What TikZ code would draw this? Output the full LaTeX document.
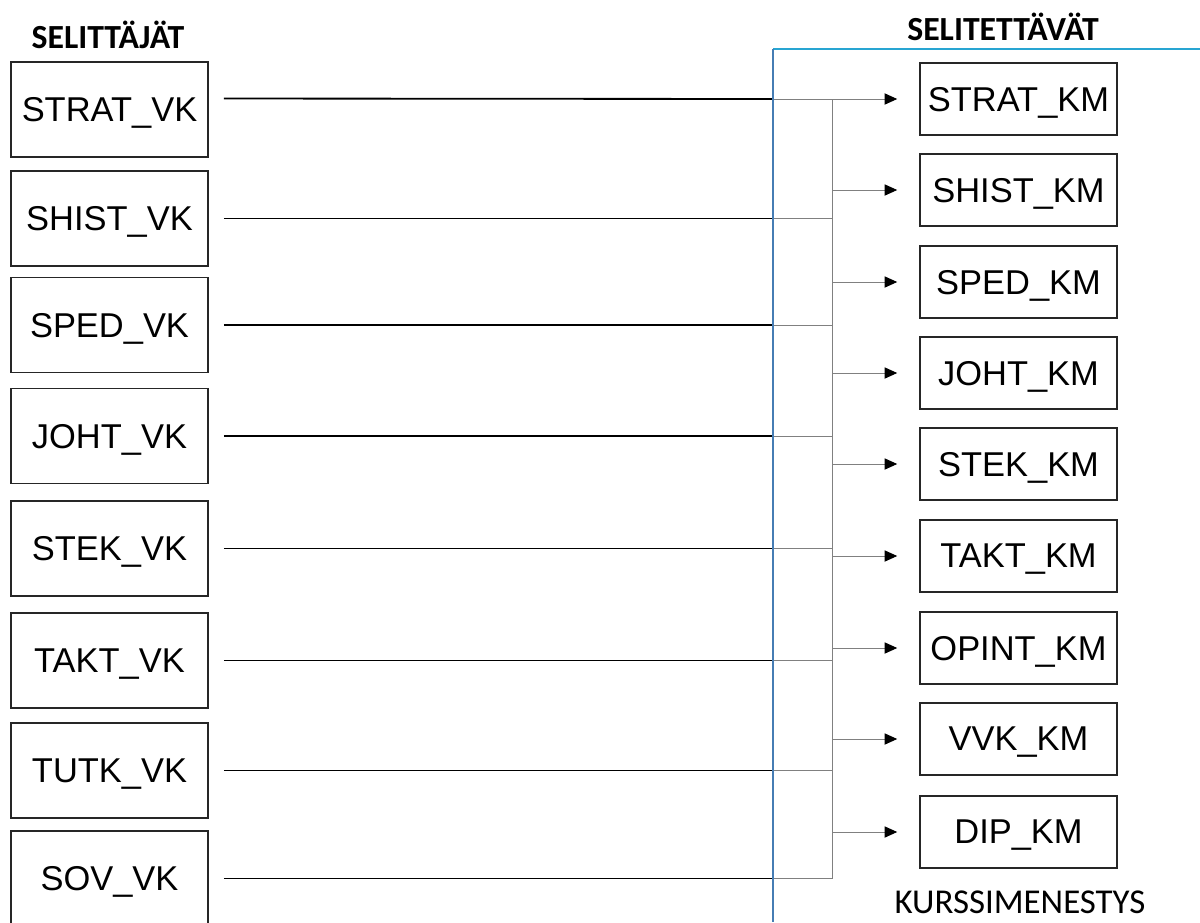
\documentclass[tikz,border=0pt]{standalone}
\usepackage{fontspec}
\setmainfont{Liberation Sans}
\newfontfamily\calibfont{Carlito}
\usetikzlibrary{arrows.meta,positioning}
\definecolor{frameblue}{RGB}{70,125,180}
\definecolor{frametop}{RGB}{40,165,210}

\begin{document}
\begin{tikzpicture}
[
    x=0.025cm, y=-0.025cm,
    vkbox/.style={draw=black!85, line width=1.2pt, minimum width=4.925cm, minimum height=2.375cm, text depth=0pt, font=\fontsize{24.5}{28}\selectfont},
    kmbox/.style={draw=black!85, line width=1.1pt, minimum width=4.925cm, minimum height=1.8cm, text depth=0pt, font=\fontsize{24.5}{28}\selectfont},
    feed/.style={line width=1.3pt, shorten <=0.375cm},
    tap/.style={gray, line width=0.7pt},
    heading/.style={font=\calibfont\bfseries\fontsize{24}{28}\selectfont, anchor=base},
]
\useasboundingbox (0,0) rectangle (1200,922);

% headings
\node [heading] (selittajat) at (108,48) {SELITTÄJÄT};
\node [heading] (selitettavat) at (1003,40) {SELITETTÄVÄT};

% explanatory variables
\foreach \name/\y in {STRAT/109.5, SHIST/218.5, SPED/325, JOHT/436, STEK/548.5, TAKT/660.5, TUTK/770.5, SOV/878.5}
    \node [vkbox] (\name vk) at (109.5,\y) {\name\_VK};

% explained variables
\foreach \name/\y in {STRAT/99, SHIST/190, SPED/282, JOHT/373, STEK/464, TAKT/556, OPINT/648, VVK/739, DIP/832}
    \node [kmbox] (\name km) at (1018.5,\y) {\name\_KM};
\node [font=\calibfont\fontsize{24.8}{28}\selectfont, anchor=base] (kurssimenestys) at (1020,913) {KURSSIMENESTYS};

\coordinate (wall) at (773,49);
\coordinate (bus) at (832,99);

% feeds into the bus
\draw [feed] ([yshift=0.275cm]STRATvk.east) -- (wall |- STRATkm.west);
\draw [tap] (wall |- STRATkm.west) -- (bus);
\foreach \name in {SHIST,SPED,JOHT,STEK,TAKT,TUTK,SOV}
{
    \draw [feed] (\name vk.east) -- (wall |- \name vk.east);
    \draw [tap] (wall |- \name vk.east) -- (bus |- \name vk.east);
}
\draw [tap] (bus) -- (bus |- SOVvk.east);

% arrows out of the bus
\foreach \name in {STRAT,SHIST,SPED,JOHT,STEK,TAKT,OPINT,VVK,DIP}
    \draw [tap, -{Triangle[length=9pt,width=8pt,color=black]}, shorten >=0.55cm] (bus |- \name km.west) -- (\name km.west);

% frame
\draw [frametop, line width=1.3pt] (1200,49) -- (wall);
\draw [frameblue, line width=1.4pt] (wall) -- (773,922);
\end{tikzpicture}
\end{document}
